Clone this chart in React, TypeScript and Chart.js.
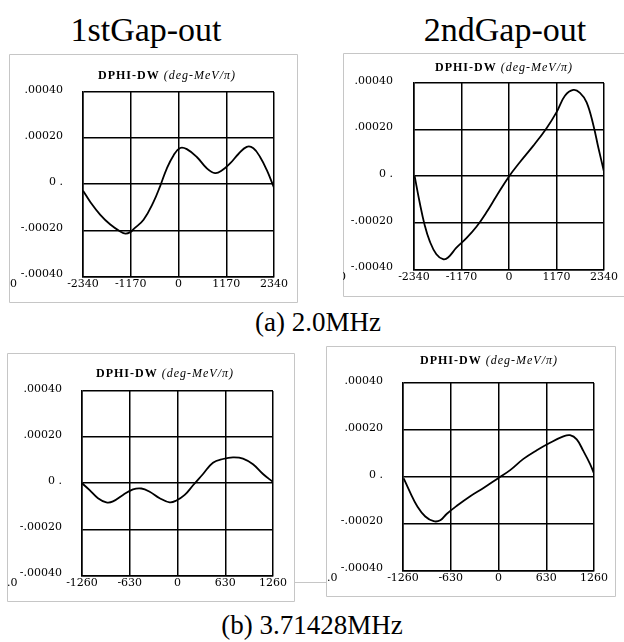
import React, { useEffect, useRef } from "react";
import { Chart, registerables } from "chart.js";

Chart.register(...registerables);

// ---------- data ----------
const yTicks = [-0.0004, -0.0002, 0, 0.0002, 0.0004];
const yTickLabels = ["-.00040", "-.00020", "0 .", ".00020", ".00040"];

const xTicks2MHz = [-2340, -1170, 0, 1170, 2340];
const xTickLabels2MHz = ["-2340", "-1170", "0", "1170", "2340"];
const xTicks371MHz = [-1260, -630, 0, 630, 1260];
const xTickLabels371MHz = ["-1260", "-630", "0", "630", "1260"];

// (a) 2.0 MHz, 1st gap out
const gap1At2X = [-2340, -2161, -1916, -1671, -1427, -1300, -1182, -1101, -856, -612, -449, -285, -122, 41, 204, 449, 693, 897, 1060, 1264, 1468, 1672, 1835, 1999, 2162, 2340];
const gap1At2Y = [-0.000028, -0.000077, -0.000133, -0.000175, -0.000205, -0.000214, -0.000208, -0.000195, -0.000154, -0.000077, -0.000008, 0.000069, 0.000125, 0.000157, 0.000152, 0.000118, 0.000069, 0.000048, 0.000059, 0.00009, 0.000131, 0.000162, 0.000156, 0.000118, 0.000062, -0.000015];

// (a) 2.0 MHz, 2nd gap out
const gap2At2X = [-2324, -2200, -2077, -1953, -1789, -1624, -1501, -1295, -1049, -802, -555, -308, 4, 267, 596, 925, 1172, 1378, 1583, 1748, 1912, 2077, 2200, 2340];
const gap2At2Y = [0.0, -0.000113, -0.00021, -0.000279, -0.000335, -0.000356, -0.000349, -0.000307, -0.000266, -0.000217, -0.000155, -0.000085, 0.0, 0.00006, 0.00013, 0.000206, 0.000275, 0.000345, 0.00037, 0.000358, 0.000317, 0.00022, 0.000123, 0.000019];

// (b) 3.71428 MHz, 1st gap out
const gap1At371X = [-1260, -1159, -1049, -939, -851, -719, -587, -477, -367, -235, -103, -15, 95, 205, 337, 468, 600, 732, 864, 996, 1128, 1260];
const gap1At371Y = [0.0, -0.00003, -0.000065, -0.000083, -0.000079, -0.000051, -0.000027, -0.000023, -0.000037, -0.000065, -0.000083, -0.000075, -0.000051, -0.000009, 0.00004, 0.000089, 0.000105, 0.000112, 0.000107, 0.000082, 0.00004, 0.000005];

// (b) 3.71428 MHz, 2nd gap out
const gap2At371X = [-1251, -1163, -1076, -966, -856, -768, -681, -549, -373, -198, 9, 154, 329, 505, 680, 856, 944, 1032, 1119, 1207, 1260];
const gap2At371Y = [-0.000007, -0.000069, -0.000124, -0.00017, -0.00019, -0.000186, -0.000158, -0.000124, -0.000083, -0.000048, -0.000003, 0.000028, 0.000076, 0.000113, 0.000145, 0.000172, 0.000177, 0.000159, 0.00011, 0.000055, 0.000014];

// ---------- layout ----------
type Box = { l: number; t: number; w: number; h: number };
type Plot = { l: number; t: number; r: number; b: number };
type PanelCfg = {
  xs: number[];
  ys: number[];
  xTicks: number[];
  xLabels: string[];
  frame: Box;
  plot: Plot;
  yPad: number;
  titleCx: number;
  titleCy: number;
  cornerText: string;
  cornerX: number;
  noRight?: boolean;
};

const panels: PanelCfg[] = [
  {
    xs: gap1At2X, ys: gap1At2Y, xTicks: xTicks2MHz, xLabels: xTickLabels2MHz,
    frame: { l: 9, t: 54, w: 289, h: 249 },
    plot: { l: 83, t: 92, r: 274, b: 284 },
    yPad: 20, titleCx: 167, titleCy: 75, cornerText: "0", cornerX: 1,
  },
  {
    xs: gap2At2X, ys: gap2At2Y, xTicks: xTicks2MHz, xLabels: xTickLabels2MHz,
    frame: { l: 343, t: 53, w: 281, h: 244 },
    plot: { l: 414, t: 83, r: 604, b: 276 },
    yPad: 21, titleCx: 504, titleCy: 67, cornerText: "0", cornerX: -4, noRight: true,
  },
  {
    xs: gap1At371X, ys: gap1At371Y, xTicks: xTicks371MHz, xLabels: xTickLabels371MHz,
    frame: { l: 7, t: 353, w: 288, h: 249 },
    plot: { l: 82, t: 391, r: 273, b: 582 },
    yPad: 20, titleCx: 165, titleCy: 373, cornerText: ".0", cornerX: 0,
  },
  {
    xs: gap2At371X, ys: gap2At371Y, xTicks: xTicks371MHz, xLabels: xTickLabels371MHz,
    frame: { l: 326, t: 346, w: 290, h: 251 },
    plot: { l: 403, t: 383, r: 594, b: 577 },
    yPad: 20, titleCx: 489, titleCy: 360, cornerText: ".0", cornerX: 1,
  },
];

const TICK_FONT = { family: "'DejaVu Serif', serif", size: 11 };
const FRAME_COLOR = "#c6c6c6";

function makeChart(canvas: HTMLCanvasElement, p: PanelCfg) {
  const W = p.frame.w;
  const H = p.frame.h;
  const plotL = p.plot.l - p.frame.l;
  const plotT = p.plot.t - p.frame.t;
  const plotR = p.plot.r - p.frame.l;
  const plotB = p.plot.b - p.frame.t;
  const xMin = p.xTicks[0];
  const xMax = p.xTicks[p.xTicks.length - 1];

  const framePlugin = {
    id: "frameAndCorner",
    beforeDraw(chart: any) {
      const ctx = chart.ctx;
      ctx.save();
      ctx.strokeStyle = FRAME_COLOR;
      ctx.lineWidth = 1;
      ctx.beginPath();
      if (p.noRight) {
        ctx.moveTo(W, 0.5);
        ctx.lineTo(0.5, 0.5);
        ctx.lineTo(0.5, H - 0.5);
        ctx.lineTo(W, H - 0.5);
      } else {
        ctx.rect(0.5, 0.5, W - 1, H - 1);
      }
      ctx.stroke();
      ctx.restore();
    },
    afterDraw(chart: any) {
      const ctx = chart.ctx;
      const xs = chart.scales.x;
      ctx.save();
      ctx.fillStyle = "#000";
      ctx.font = `${TICK_FONT.size}px ${TICK_FONT.family}`;
      ctx.textAlign = "left";
      ctx.textBaseline = "middle";
      ctx.fillText(p.cornerText, p.cornerX, xs.top + 8);
      ctx.restore();
    },
  };

  return new Chart(canvas, {
    type: "line",
    data: {
      datasets: [
        {
          data: p.xs.map((x, i) => ({ x, y: p.ys[i] })),
          borderColor: "#000",
          borderWidth: 1.8,
          pointRadius: 0,
          tension: 0.4,
          fill: false,
        },
      ],
    },
    options: {
      animation: false,
      responsive: false,
      maintainAspectRatio: false,
      layout: { padding: { top: plotT, right: W - plotR, left: 0, bottom: 0 } },
      plugins: {
        legend: { display: false },
        tooltip: { enabled: false },
        title: { display: false },
      },
      scales: {
        x: {
          type: "linear",
          min: xMin,
          max: xMax,
          afterBuildTicks: (s: any) => {
            s.ticks = p.xTicks.map((v) => ({ value: v }));
          },
          afterFit: (s: any) => {
            s.height = H - plotB;
          },
          grid: { color: "#000", lineWidth: 1.5, drawTicks: false },
          border: { color: "#000", width: 1.5 },
          ticks: {
            padding: 1,
            color: "#000",
            font: TICK_FONT,
            autoSkip: false,
            maxRotation: 0,
            callback: (v: any) => p.xLabels[p.xTicks.indexOf(Number(v))] ?? "",
          },
        },
        y: {
          type: "linear",
          min: yTicks[0],
          max: yTicks[yTicks.length - 1],
          afterBuildTicks: (s: any) => {
            s.ticks = yTicks.map((v) => ({ value: v }));
          },
          afterFit: (s: any) => {
            s.width = plotL;
          },
          grid: { color: "#000", lineWidth: 1.5, drawTicks: false },
          border: { color: "#000", width: 1.5 },
          ticks: {
            padding: p.yPad,
            color: "#000",
            font: TICK_FONT,
            autoSkip: false,
            labelOffset: -2,
            callback: (v: any) => yTickLabels[yTicks.indexOf(Number(v))] ?? "",
          },
        },
      },
    },
    plugins: [framePlugin],
  } as any);
}

function Panel({ cfg }: { cfg: PanelCfg }) {
  const ref = useRef<HTMLCanvasElement | null>(null);
  useEffect(() => {
    if (!ref.current) return;
    const chart = makeChart(ref.current, cfg);
    return () => chart.destroy();
  }, [cfg]);
  return (
    <>
      <canvas
        ref={ref}
        width={cfg.frame.w}
        height={cfg.frame.h}
        style={{
          position: "absolute",
          left: cfg.frame.l,
          top: cfg.frame.t,
          width: cfg.frame.w,
          height: cfg.frame.h,
        }}
      />
      <div
        style={{
          position: "absolute",
          left: cfg.titleCx - 110,
          top: cfg.titleCy - 8,
          width: 220,
          height: 16,
          lineHeight: "16px",
          textAlign: "center",
          whiteSpace: "nowrap",
          fontFamily: "'Liberation Serif', serif",
          fontSize: 12,
          color: "#000",
        }}
      >
        <span style={{ fontWeight: "bold", letterSpacing: 1 }}>DPHI-DW</span>
        <span style={{ fontStyle: "italic", letterSpacing: 1 }}>{"  (deg-MeV/π)"}</span>
      </div>
    </>
  );
}

const headingStyle: React.CSSProperties = {
  position: "absolute",
  whiteSpace: "nowrap",
  textAlign: "center",
  fontFamily: "'Liberation Serif', 'Times New Roman', serif",
  color: "#000",
};

export default function App() {
  return (
    <div
      style={{
        position: "absolute",
        left: 0,
        top: 0,
        width: 624,
        height: 642,
        overflow: "hidden",
        background: "#fff",
      }}
    >
      <div style={{ ...headingStyle, left: 46, top: 9, width: 200, fontSize: 34, lineHeight: "42px" }}>1stGap-out</div>
      <div style={{ ...headingStyle, left: 405, top: 9, width: 200, fontSize: 34, lineHeight: "42px" }}>2ndGap-out</div>
      {panels.map((p, i) => (
        <Panel key={i} cfg={p} />
      ))}
      <div
        style={{
          position: "absolute",
          left: 295,
          top: 582,
          width: 31,
          height: 1,
          background: FRAME_COLOR,
        }}
      />
      <div style={{ ...headingStyle, left: 168, top: 305, width: 300, fontSize: 27, lineHeight: "34px" }}>(a) 2.0MHz</div>
      <div style={{ ...headingStyle, left: 162, top: 608, width: 300, fontSize: 27, lineHeight: "34px" }}>(b) 3.71428MHz</div>
    </div>
  );
}
